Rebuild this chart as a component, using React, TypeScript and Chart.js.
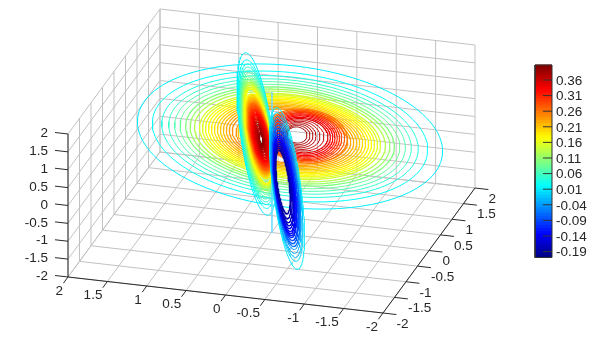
import React, { useEffect, useRef } from "react";
import { Chart, registerables } from "chart.js";

Chart.register(...registerables);

// Axis ticks (data units)
const axisTicks = [2, 1.5, 1, 0.5, 0, -0.5, -1, -1.5, -2];
const zTicks = [2, 1.5, 1, 0.5, 0, -0.5, -1, -1.5, -2];
const colorbarTicks = [0.36, 0.31, 0.26, 0.21, 0.16, 0.11, 0.06, 0.01, -0.04, -0.09, -0.14, -0.19];
const colorMin = -0.209;
const colorMax = 0.408;

// Flat slice: outer contours (view-plane units)
const flatLevels = [0.012, 0.025, 0.04, 0.055, 0.07, 0.085, 0.1, 0.115, 0.13, 0.15, 0.158, 0.167, 0.175, 0.183, 0.192, 0.2, 0.208, 0.217, 0.225, 0.233, 0.242];
const flatMajor = [1.949, 1.759, 1.638, 1.549, 1.473, 1.403, 1.333, 1.276, 1.219, 1.156, 1.118, 1.079, 1.041, 1.003, 0.965, 0.927, 0.889, 0.851, 0.813, 0.775, 0.737];
const flatMinor = [0.897, 0.809, 0.753, 0.713, 0.678, 0.645, 0.613, 0.587, 0.561, 0.532, 0.514, 0.496, 0.479, 0.461, 0.444, 0.426, 0.409, 0.391, 0.374, 0.356, 0.339];

// Flat slice: contours falling into the valley beside the upright lobe
const valleyLevels = [0.24, 0.215, 0.19, 0.165, 0.14, 0.115, 0.09, 0.065, 0.04, 0.02];
const valleyMajor = [0.33, 0.305, 0.279, 0.26, 0.241, 0.222, 0.203, 0.184, 0.165, 0.152];
const valleyMinor = [0.23, 0.213, 0.195, 0.182, 0.169, 0.155, 0.142, 0.129, 0.115, 0.106];

// Flat slice: contours round the peak
const peakLevels = [0.26, 0.275, 0.29, 0.3, 0.31, 0.32, 0.33, 0.34, 0.35, 0.36, 0.37, 0.375, 0.38, 0.385, 0.39];
const peakU = [0.425, 0.42, 0.413, 0.41, 0.406, 0.403, 0.4, 0.397, 0.394, 0.381, 0.368, 0.356, 0.349, 0.337, 0.324];
const peakV = [0.317, 0.317, 0.317, 0.317, 0.318, 0.319, 0.32, 0.321, 0.322, 0.324, 0.326, 0.328, 0.329, 0.33, 0.33];
const peakMajor = [0.54, 0.51, 0.48, 0.455, 0.43, 0.405, 0.38, 0.352, 0.324, 0.286, 0.248, 0.21, 0.178, 0.152, 0.127];
const peakMinor = [0.34, 0.325, 0.31, 0.295, 0.28, 0.265, 0.25, 0.232, 0.216, 0.197, 0.178, 0.159, 0.14, 0.121, 0.102];

// Upright slice: positive lobe
const hotLevels = [0.012, 0.025, 0.037, 0.05, 0.062, 0.075, 0.087, 0.1, 0.112, 0.125, 0.137, 0.15, 0.162, 0.175, 0.187, 0.2, 0.212, 0.225, 0.237, 0.25, 0.262, 0.275, 0.287, 0.3, 0.312, 0.325, 0.337, 0.35, 0.362, 0.375, 0.387, 0.4];
const hotU = [-0.19, -0.188, -0.186, -0.184, -0.182, -0.18, -0.178, -0.176, -0.174, -0.172, -0.17, -0.168, -0.166, -0.164, -0.162, -0.16, -0.158, -0.156, -0.154, -0.152, -0.15, -0.148, -0.146, -0.144, -0.142, -0.14, -0.138, -0.137, -0.136, -0.135, -0.134, -0.133];
const hotV = [0.343, 0.341, 0.339, 0.337, 0.335, 0.333, 0.331, 0.329, 0.327, 0.325, 0.323, 0.321, 0.319, 0.317, 0.315, 0.313, 0.311, 0.309, 0.307, 0.305, 0.303, 0.301, 0.299, 0.297, 0.295, 0.293, 0.291, 0.289, 0.287, 0.285, 0.283, 0.281];
const hotMajor = [1.041, 0.952, 0.902, 0.864, 0.826, 0.794, 0.762, 0.737, 0.711, 0.686, 0.667, 0.648, 0.629, 0.61, 0.544, 0.526, 0.508, 0.49, 0.473, 0.455, 0.438, 0.42, 0.397, 0.374, 0.351, 0.321, 0.293, 0.251, 0.211, 0.164, 0.117, 0.07];
const hotMinor = [0.203, 0.197, 0.19, 0.185, 0.18, 0.175, 0.17, 0.165, 0.161, 0.157, 0.154, 0.15, 0.146, 0.142, 0.138, 0.135, 0.131, 0.127, 0.123, 0.119, 0.116, 0.112, 0.108, 0.104, 0.099, 0.091, 0.081, 0.07, 0.057, 0.044, 0.032, 0.019];
const hotTilt = [98, 98, 98, 98, 98, 98, 98.5, 98.5, 99, 99, 99, 99.5, 99.5, 100, 100, 100, 100.5, 100.5, 101, 101, 101, 101.5, 101.5, 102, 102, 102, 102.5, 102.5, 103, 103, 103, 103];

// Upright slice: the tightly packed core of the positive lobe
const coreLevels = [0.256, 0.268, 0.281, 0.293, 0.306, 0.318, 0.331, 0.343, 0.356, 0.368, 0.381, 0.393];
const coreU = [-0.15, -0.148, -0.147, -0.145, -0.143, -0.141, -0.139, -0.138, -0.136, -0.135, -0.134, -0.133];
const coreV = [0.304, 0.302, 0.3, 0.298, 0.296, 0.294, 0.292, 0.29, 0.288, 0.286, 0.284, 0.282];
const coreMajor = [0.446, 0.429, 0.409, 0.385, 0.362, 0.336, 0.306, 0.271, 0.23, 0.184, 0.138, 0.092];
const coreMinor = [0.117, 0.114, 0.11, 0.106, 0.101, 0.095, 0.086, 0.075, 0.063, 0.05, 0.038, 0.025];

// Upright slice: negative lobe
const coldLevels = [0.012, 0.0, -0.015, -0.03, -0.045, -0.06, -0.075, -0.09, -0.105, -0.12, -0.13, -0.14, -0.15, -0.16, -0.17, -0.18, -0.19];
const coldU = [0.197, 0.19, 0.19, 0.184, 0.184, 0.184, 0.178, 0.178, 0.171, 0.171, 0.165, 0.165, 0.159, 0.159, 0.152, 0.146, 0.146];
const coldV = [-0.349, -0.33, -0.33, -0.324, -0.317, -0.317, -0.317, -0.317, -0.317, -0.317, -0.317, -0.317, -0.311, -0.305, -0.298, -0.286, -0.267];
const coldMajor = [1.035, 0.952, 0.902, 0.857, 0.813, 0.775, 0.737, 0.698, 0.66, 0.635, 0.61, 0.584, 0.552, 0.521, 0.489, 0.451, 0.406];
const coldMinor = [0.178, 0.172, 0.165, 0.158, 0.151, 0.144, 0.137, 0.131, 0.125, 0.119, 0.113, 0.107, 0.101, 0.095, 0.089, 0.083, 0.075];

// The zero contour between the two lobes
const zeroLineU = [0.006, 0.006];
const zeroLineV = [0.876, -0.914];

const U_PER_PX = 78.75;
const viewU = (x: number, y: number) => -x + 0.292 * y;
const viewV = (x: number, y: number, z: number) => 0.1143 * x + 0.3968 * y + 0.454 * z;

function jet(value: number): string {
  const t = Math.min(1, Math.max(0, (value - colorMin) / (colorMax - colorMin)));
  const ch = (c: number) => Math.round(255 * Math.min(1, Math.max(0, c)));
  return `rgb(${ch(1.5 - Math.abs(4 * t - 3))},${ch(1.5 - Math.abs(4 * t - 2))},${ch(1.5 - Math.abs(4 * t - 1))})`;
}

function ring(cu: number, cv: number, major: number, minor: number, tiltDeg: number) {
  const th = (tiltDeg * Math.PI) / 180;
  const pts: { x: number; y: number }[] = [];
  for (let i = 0; i <= 120; i++) {
    const p = (i / 120) * 2 * Math.PI;
    pts.push({
      x: cu + major * Math.cos(p) * Math.cos(th) - minor * Math.sin(p) * Math.sin(th),
      y: cv + major * Math.cos(p) * Math.sin(th) + minor * Math.sin(p) * Math.cos(th),
    });
  }
  return pts;
}

function line(points: { x: number; y: number }[], color: string, width = 1, yAxisID = "y") {
  return {
    type: "scatter" as const,
    data: points,
    showLine: true,
    borderColor: color,
    borderWidth: width,
    pointRadius: 0,
    tension: 0,
    fill: false,
    yAxisID,
    borderCapStyle: "butt" as const,
  };
}

function buildDatasets() {
  const out: any[] = [];
  const grid = "#c2c2c2";
  const dark = "#2a2a2a";
  const p3 = (x: number, y: number, z: number) => ({ x: viewU(x, y), y: viewV(x, y, z) });

  for (const t of axisTicks) {
    out.push(line([p3(t, -2, -2), p3(t, 2, -2)], grid)); // floor
    out.push(line([p3(-2, t, -2), p3(2, t, -2)], grid));
    out.push(line([p3(t, 2, -2), p3(t, 2, 2)], grid)); // back wall
    out.push(line([p3(2, t, -2), p3(2, t, 2)], grid)); // side wall
  }
  for (const t of zTicks) {
    out.push(line([p3(-2, 2, t), p3(2, 2, t)], grid));
    out.push(line([p3(2, -2, t), p3(2, 2, t)], grid));
  }

  out.push(line([p3(2, -2, -2), p3(2, -2, 2)], dark));
  out.push(line([p3(2, -2, -2), p3(-2, -2, -2)], dark));
  out.push(line([p3(-2, -2, -2), p3(-2, 2, -2)], dark));
  for (const t of zTicks) out.push(line([p3(2, -2, t), p3(2.165, -2, t)], dark));
  for (const t of axisTicks) {
    out.push(line([p3(t, -2, -2), p3(t, -2.2, -2)], dark));
    out.push(line([p3(-2, t, -2), p3(-2.17, t, -2)], dark));
  }

  const w = (i: number, firstThin: number) => (i < firstThin ? 1 : 1.3);
  flatLevels.forEach((lv, i) => out.push(line(ring(0.235, 0.311, flatMajor[i], flatMinor[i], -7), jet(lv), w(i, 6))));
  valleyLevels.forEach((lv, i) => out.push(line(ring(-0.121, 0.343, valleyMajor[i], valleyMinor[i], -7), jet(lv), 1)));
  peakLevels.forEach((lv, i) => out.push(line(ring(peakU[i], peakV[i], peakMajor[i], peakMinor[i], -6.5), jet(lv), i < 9 ? 1.2 : 1)));
  hotLevels.forEach((lv, i) => out.push(line(ring(hotU[i], hotV[i], hotMajor[i], hotMinor[i], hotTilt[i]), jet(lv), w(i, 8))));
  coreLevels.forEach((lv, i) => out.push(line(ring(coreU[i], coreV[i], coreMajor[i], coreMinor[i], 102), jet(lv), 1.3)));
  out.push(line(zeroLineU.map((u, i) => ({ x: u, y: zeroLineV[i] })), "#6fdcff", 0.8));
  coldLevels.forEach((lv, i) => out.push(line(ring(coldU[i], coldV[i], coldMajor[i], coldMinor[i], 97.5), jet(lv), w(i, 5))));

  // Colour bar, drawn on its own value axis
  const barLeft = 3.346;
  const barRight = 3.562;
  for (let i = 0; i < 64; i++) {
    const v = colorMin + ((i + 0.5) / 64) * (colorMax - colorMin);
    out.push(line([{ x: barLeft, y: v }, { x: barRight, y: v }], jet(v), 4, "yBar"));
  }
  const frame = "#333333";
  out.push(line([
    { x: barLeft, y: colorMin }, { x: barRight, y: colorMin },
    { x: barRight, y: colorMax }, { x: barLeft, y: colorMax }, { x: barLeft, y: colorMin },
  ], frame, 1, "yBar"));
  for (const t of colorbarTicks) {
    out.push(line([{ x: barRight - 0.115, y: t }, { x: barRight, y: t }], frame, 1, "yBar"));
  }
  return out.reverse(); // Chart.js paints the first dataset last
}

const labelPlugin = {
  id: "axisText",
  afterDatasetsDraw(chart: any) {
    const { ctx, scales } = chart;
    const px = (u: number) => scales.x.getPixelForValue(u);
    const py = (v: number) => scales.y.getPixelForValue(v);
    ctx.save();
    ctx.fillStyle = "#262626";
    ctx.font = "13.5px 'Liberation Sans', Arial, sans-serif";
    ctx.textBaseline = "middle";
    ctx.textAlign = "right";
    for (const t of zTicks) {
      ctx.fillText(String(t), px(viewU(2.165, -2)) - 7, py(viewV(2.165, -2, t)) + 1);
    }
    for (const t of axisTicks) {
      ctx.fillText(String(t), px(viewU(t, -2)) - 5, py(viewV(t, -2, -2)) + 14);
    }
    ctx.textAlign = "left";
    for (const t of axisTicks) {
      ctx.fillText(String(t), px(viewU(-2.17, t)), py(viewV(-2.17, t, -2)) + 9.5);
    }
    const barRightPx = px(3.562);
    for (const t of colorbarTicks) {
      ctx.fillText(t.toFixed(2), barRightPx + 4, scales.yBar.getPixelForValue(t) + 1);
    }
    ctx.restore();
  },
};

export default function App() {
  const ref = useRef<HTMLCanvasElement | null>(null);
  useEffect(() => {
    if (!ref.current) return;
    const chart = new Chart(ref.current, {
      type: "scatter",
      data: { datasets: buildDatasets() },
      plugins: [labelPlugin],
      options: {
        animation: false,
        responsive: false,
        devicePixelRatio: 1,
        layout: { padding: 0 },
        plugins: { legend: { display: false }, tooltip: { enabled: false }, title: { display: false } },
        scales: {
          x: { type: "linear", display: false, min: -271.5 / U_PER_PX, max: (595 - 271.5) / U_PER_PX },
          y: { type: "linear", display: false, min: (161 - 341) / U_PER_PX, max: 161 / U_PER_PX },
          yBar: { type: "linear", display: false, min: -0.4766, max: 0.6164 },
        },
      },
    } as any);
    return () => chart.destroy();
  }, []);
  return (
    <div style={{ position: "fixed", left: 0, top: 0, width: 595, height: 341, background: "#fff" }}>
      <canvas ref={ref} width={595} height={341} style={{ display: "block" }} />
    </div>
  );
}
